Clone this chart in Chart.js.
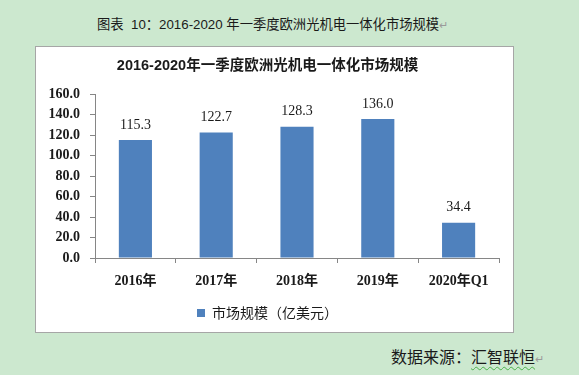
<!DOCTYPE html>
<html>
<head>
<meta charset="utf-8">
<script src="https://cdn.jsdelivr.net/npm/chart.js@4.4.0/dist/chart.umd.min.js"></script>
<style>
  html, body { margin: 0; padding: 0; }
  body { width: 579px; height: 375px; background: #cce8cf; position: relative; overflow: hidden;
         font-family: "Liberation Sans", "Noto Sans CJK SC", sans-serif; color: #1a1a1a; }
  #caption { position: absolute; left: 97px; top: 16px; font-size: 13.3px; line-height: 18px; white-space: nowrap; }
  #box { position: absolute; left: 35px; top: 46px; width: 477px; height: 285px;
         background: #fff; border: 1px solid #a6a6a6; }
  #box canvas { position: absolute; left: 0; top: 0; }
  #source { position: absolute; left: 391px; top: 348px; font-size: 16px; line-height: 20px; white-space: nowrap; }
  .mark { color: #9a9a9a; font-size: 11px; }
  .wavy { text-decoration: underline wavy #4bb04b; text-decoration-thickness: 1px; text-underline-offset: 3px; }
</style>
</head>
<body>
<div id="caption">图表&nbsp; 10：2016-2020 年一季度欧洲光机电一体化市场规模<span class="mark">↵</span></div>
<div id="box"><canvas id="chart" width="477" height="285"></canvas></div>
<div id="source">数据来源：<span class="wavy">汇智联恒</span><span class="mark">↵</span></div>
<script>
document.addEventListener("DOMContentLoaded", () => {

  /* DATA */
  const years = ["2016年", "2017年", "2018年", "2019年", "2020年Q1"];
  const marketSize = [115.3, 122.7, 128.3, 136.0, 34.4];
  const seriesName = "市场规模（亿美元）";
  const chartTitle = "2016-2020年一季度欧洲光机电一体化市场规模";

  /* value labels above bars */
  const barLabels = {
    id: "barLabels",
    afterDatasetsDraw(chart) {
      const ctx = chart.ctx;
      const meta = chart.getDatasetMeta(0);
      ctx.save();
      ctx.font = "14px 'Liberation Serif', serif";
      ctx.fillStyle = "#1a1a1a";
      ctx.textAlign = "center";
      ctx.textBaseline = "middle";
      meta.data.forEach((bar, i) => {
        ctx.fillText(marketSize[i].toFixed(1), bar.x, bar.y - 15);
      });
      ctx.restore();
    }
  };

  new Chart(document.getElementById("chart"), {
    type: "bar",
    data: {
      labels: years,
      datasets: [{
        label: seriesName,
        data: marketSize,
        backgroundColor: "#4f81bd",
        barPercentage: 0.41,
        categoryPercentage: 1
      }]
    },
    options: {
      responsive: false,
      animation: false,
      layout: { padding: { left: 0, right: 14, top: 0, bottom: 2 } },
      plugins: {
        title: {
          display: true,
          text: chartTitle,
          color: "#1a1a1a",
          font: { family: "'Liberation Sans', 'Noto Sans CJK SC'", size: 14.5, weight: "bold" },
          padding: { top: 10, bottom: 20 }
        },
        legend: {
          position: "bottom",
          labels: {
            boxWidth: 8,
            boxHeight: 8,
            padding: 10,
            color: "#1a1a1a",
            font: { family: "'Noto Sans CJK SC'", size: 14 }
          }
        },
        tooltip: { enabled: false }
      },
      scales: {
        x: {
          grid: { drawOnChartArea: false, drawTicks: true, tickLength: 5, color: "#868686", offset: true },
          border: { color: "#868686" },
          ticks: {
            color: "#1a1a1a",
            padding: 10,
            font: { family: "'Liberation Serif', 'Noto Sans CJK SC'", size: 14, weight: "bold" }
          },
          afterFit(scale) { scale.height = 38; }
        },
        y: {
          min: 0,
          max: 160,
          grid: { drawOnChartArea: false, drawTicks: true, tickLength: 5, color: "#868686" },
          border: { color: "#868686" },
          ticks: {
            stepSize: 20,
            padding: 10,
            color: "#1a1a1a",
            font: { family: "'Liberation Serif', serif", size: 14, weight: "bold" },
            callback: (v) => v.toFixed(1)
          },
          afterFit(scale) { scale.width = 59; }
        }
      }
    },
    plugins: [barLabels]
  });

});
</script>
</body>
</html>
